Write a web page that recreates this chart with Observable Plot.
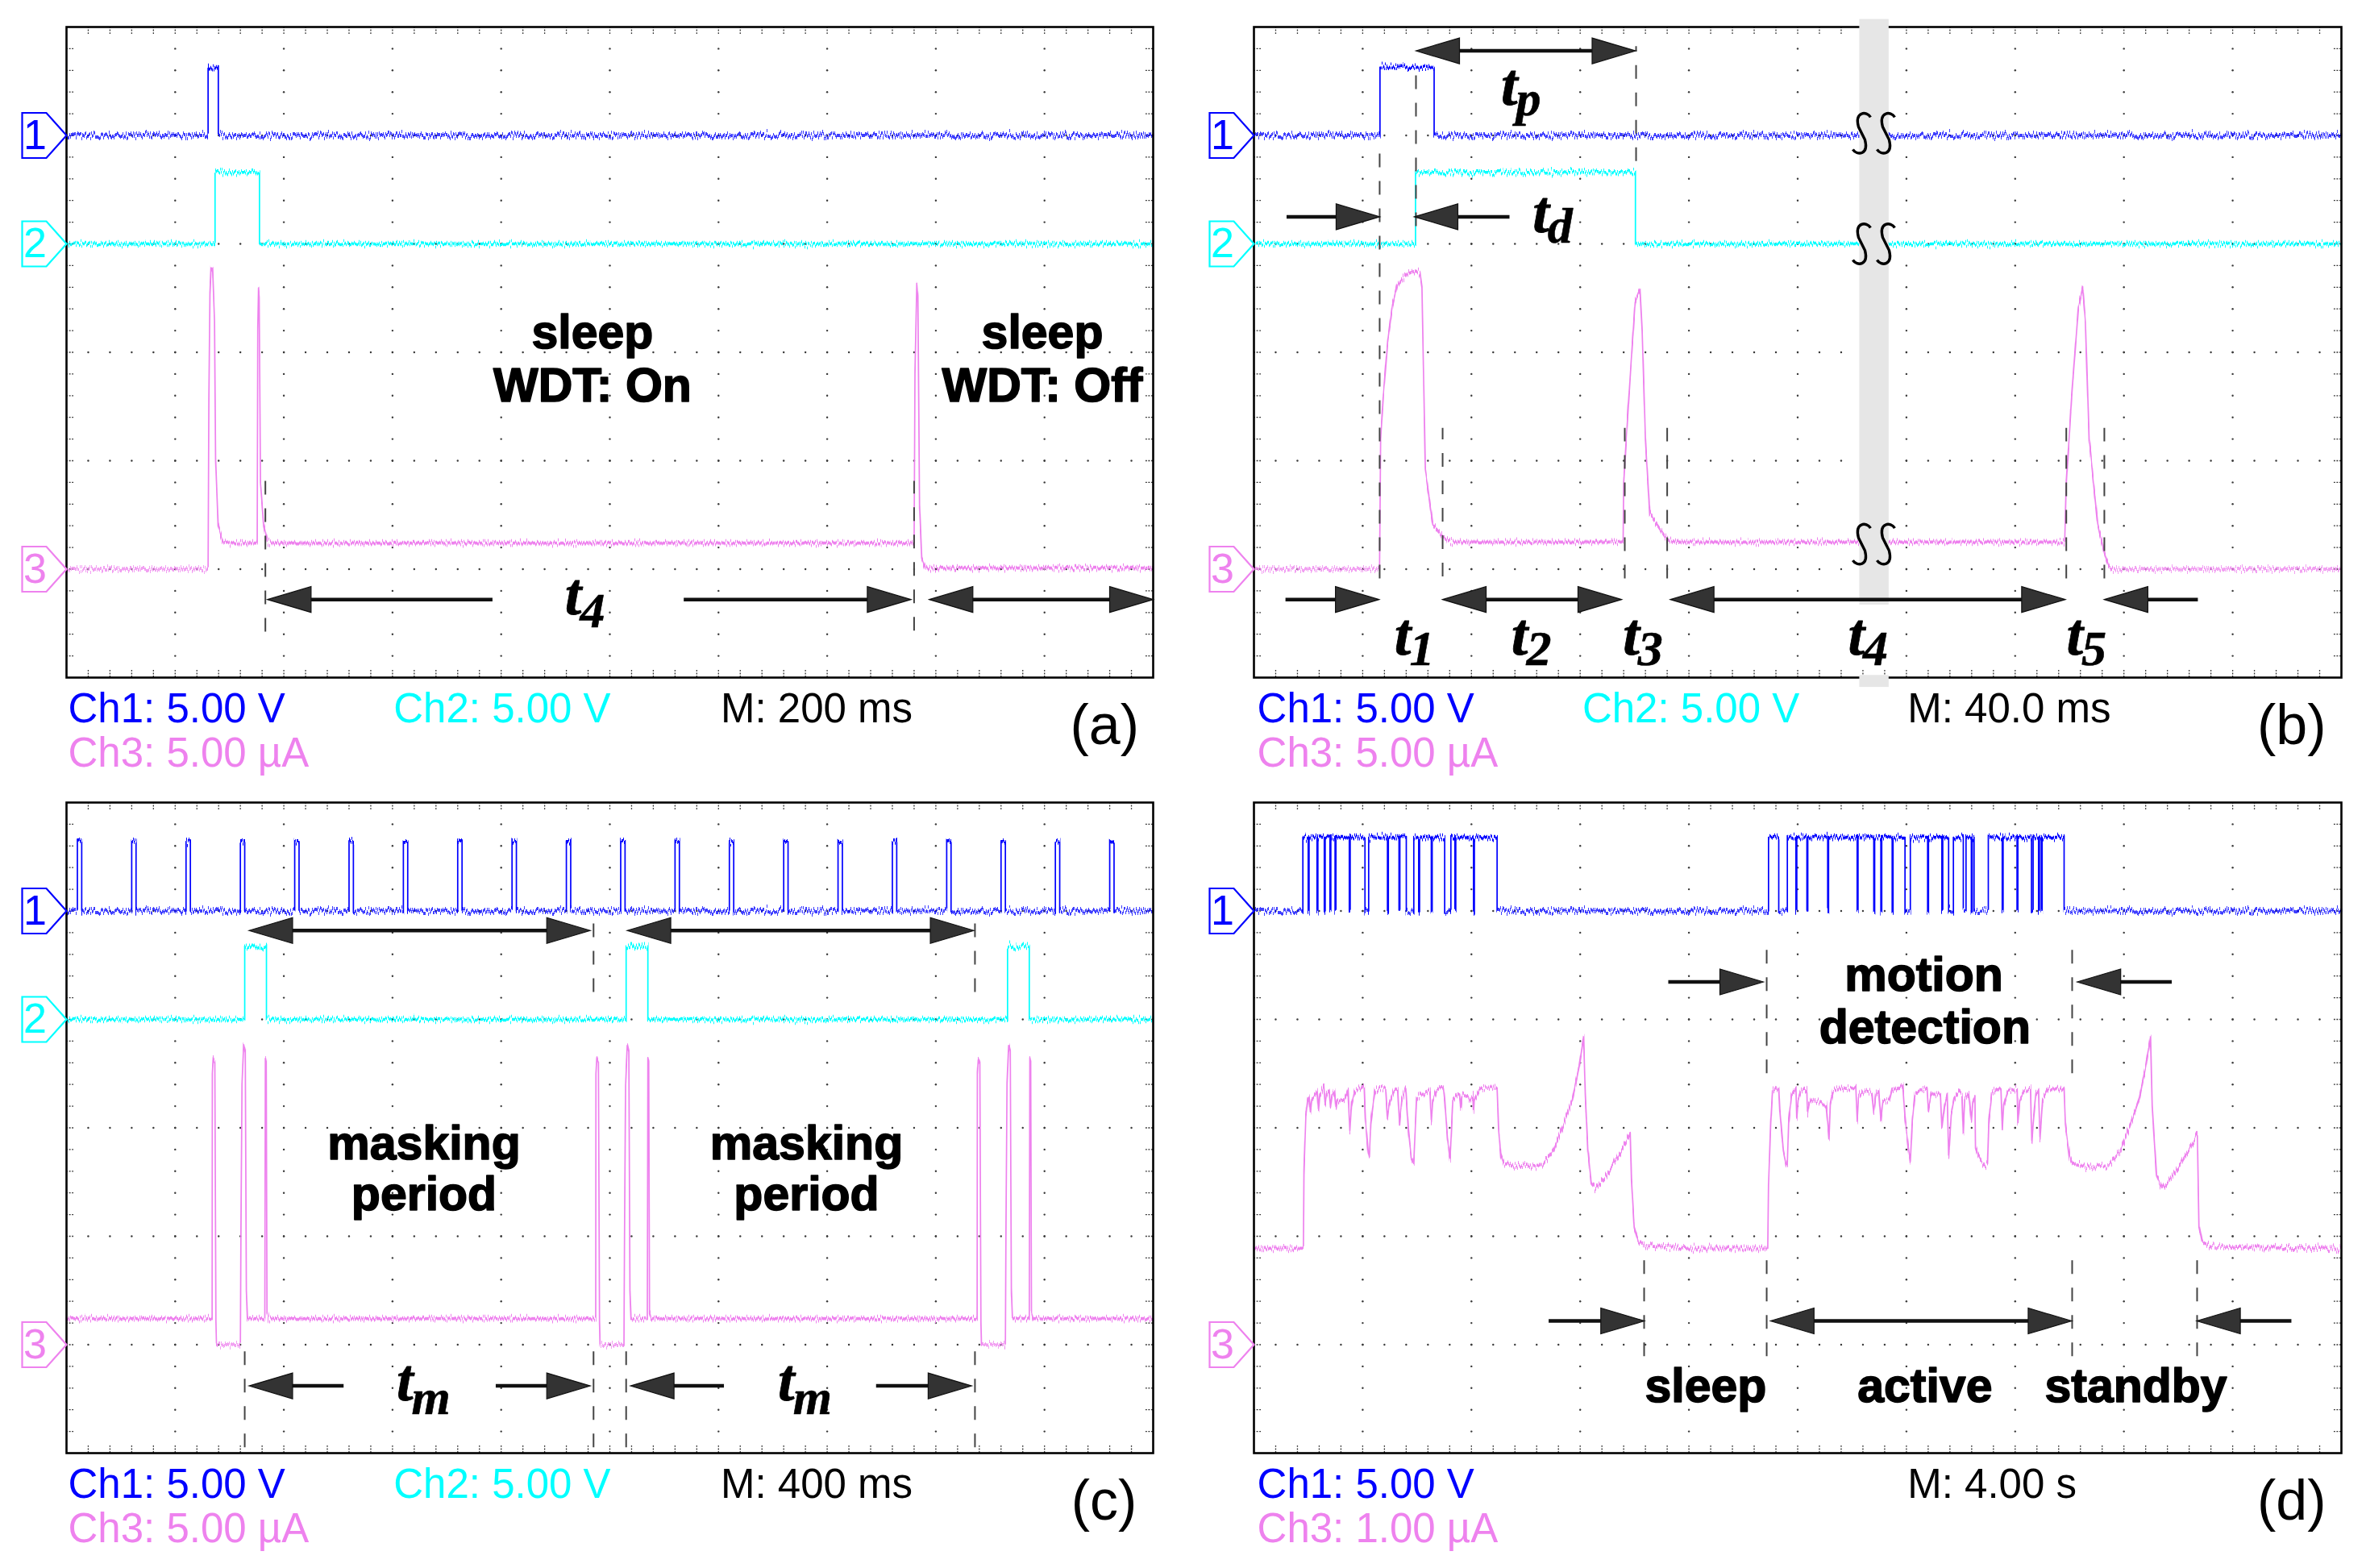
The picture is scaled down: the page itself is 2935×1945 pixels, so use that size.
<!DOCTYPE html>
<html>
<head>
<meta charset="utf-8">
<script src="https://cdn.jsdelivr.net/npm/d3@7"></script>
<script src="https://cdn.jsdelivr.net/npm/@observablehq/plot@0.6"></script>
<style>
html, body { margin: 0; padding: 0; background: #fff; }
#root { position: relative; width: 2935px; height: 1945px; overflow: hidden; background: #fff; }
#root svg { position: absolute; }
</style>
</head>
<body>
<div id="root"></div>
<script>
// ---------- grid (oscilloscope: 10 x 6 divisions, dots every 0.2 div) ----------
const gridX = [1, 2, 3, 4, 5, 6, 7, 8, 9];
const gridY = [1, 2, 3, 4, 5];
const minorStep = 0.2;

// ---------- panel (a) : M 200 ms ----------
const aCh1Pulses = [[1.303, 1.397]];
const aCh1Levels = [5.0, 5.62];
const aCh2Pulses = [[1.367, 1.776]];
const aCh2Levels = [4.0, 4.66];
const aCh3 = [[0,1.0],[1.303,1.0],[1.31,2.53],[1.32,3.55],[1.33,3.78],[1.345,3.76],[1.362,3.3],[1.372,2.0],[1.395,1.41],[1.435,1.26],[1.50,1.24],[1.755,1.24],[1.76,3.2],[1.767,3.58],[1.773,3.5],[1.785,1.8],[1.814,1.41],[1.85,1.25],[1.9,1.24],[7.80,1.24],[7.808,2.8],[7.825,3.63],[7.835,3.5],[7.85,1.6],[7.87,1.1],[7.9,1.01],[10,1.01]];
const aDashes = [[1.83, 0.42, 1.81], [7.80, 0.43, 1.81]];
const aArrows = [[3.92, 1.85, 0.72, false], [5.68, 7.77, 0.72, false], [7.94, 10.0, 0.72, true]];
const aLabels = [["sleep", 4.84, 3.04], ["WDT: On", 4.84, 2.55], ["sleep", 8.98, 3.04], ["WDT: Off", 8.98, 2.55]];
const aTimes = [["4", 4.725, 0.58]];
const aMarkers = [["1", 5.0], ["2", 4.0], ["3", 1.0]];
const aLegend = [["1", "Ch1: 5.00 V", 0.015, 0], ["2", "Ch2: 5.00 V", 3.01, 0], ["M", "M: 200 ms", 6.02, 0], ["3", "Ch3: 5.00 \u00b5A", 0.015, 1]];

// ---------- panel (b) : M 40.0 ms ----------
const bCh1Pulses = [[1.159, 1.657]];
const bCh1Levels = [5.0, 5.63];
const bCh2Pulses = [[1.486, 3.508]];
const bCh2Levels = [4.0, 4.66];
const bCh3 = [[0,1.0],[1.155,1.0],[1.165,2.2],[1.19,2.6],[1.23,3.10],[1.275,3.44],[1.317,3.62],[1.40,3.72],[1.486,3.75],[1.527,3.73],[1.545,3.6],[1.576,1.91],[1.645,1.41],[1.735,1.30],[1.82,1.25],[3.395,1.25],[3.40,1.8],[3.444,2.53],[3.506,3.47],[3.55,3.58],[3.57,3.2],[3.60,2.2],[3.64,1.51],[3.74,1.36],[3.80,1.27],[3.9,1.25],[7.455,1.25],[7.47,1.8],[7.52,2.6],[7.58,3.4],[7.62,3.60],[7.645,3.3],[7.68,2.2],[7.76,1.41],[7.82,1.15],[7.86,1.02],[7.9,1.0],[10,1.0]];
const bDashes = [[1.156, 0.91, 4.86], [1.49, 4.16, 5.59], [3.514, 4.76, 5.82], [1.735, 0.93, 2.30], [3.41, 0.91, 2.30], [3.80, 0.91, 2.30], [7.47, 0.91, 2.30], [7.82, 0.91, 2.30]];
const bArrows = [[1.49, 3.51, 5.78, true], [0.30, 1.156, 4.25, false], [2.35, 1.475, 4.25, false], [0.29, 1.15, 0.72, false], [1.735, 3.38, 0.72, true], [3.83, 7.46, 0.72, true], [8.68, 7.82, 0.72, false]];
const bBand = [[5.57, 5.84, 0.67, 6.07], [5.57, 5.84, -0.09, 0.02]];
const bBreaks = [[5.70, 5.02], [5.70, 4.0], [5.70, 1.23]];
const bTimes = [["p", 2.41, 5.28], ["d", 2.70, 4.11], ["1", 1.43, 0.21], ["2", 2.505, 0.21], ["3", 3.53, 0.21], ["4", 5.60, 0.21], ["5", 7.61, 0.21]];
const bMarkers = [["1", 5.0], ["2", 4.0], ["3", 1.0]];
const bLegend = [["1", "Ch1: 5.00 V", 0.03, 0], ["2", "Ch2: 5.00 V", 3.02, 0], ["M", "M: 40.0 ms", 6.01, 0], ["3", "Ch3: 5.00 \u00b5A", 0.03, 1]];

// ---------- panel (c) : M 400 ms ----------
const cCh1PulseStarts = [0.10, 0.60, 1.10, 1.60, 2.10, 2.60, 3.10, 3.60, 4.10, 4.60, 5.10, 5.60, 6.10, 6.60, 7.10, 7.60, 8.10, 8.60, 9.10, 9.60];
const cCh1PulseWidth = 0.04;
const cCh1Levels = [5.0, 5.64];
const cCh2Pulses = [[1.64, 1.84], [5.15, 5.35], [8.66, 8.86]];
const cCh2Levels = [4.0, 4.67];
const cCh3 = [[0,1.24],[1.34,1.24],[1.342,3.5],[1.35,3.64],[1.365,3.6],[1.375,1.2],[1.38,1.0],[1.60,1.0],[1.605,2.0],[1.615,3.4],[1.63,3.76],[1.645,3.7],[1.655,1.5],[1.665,1.24],[1.825,1.24],[1.83,3.64],[1.838,3.6],[1.845,1.3],[1.86,1.24],
  [4.87,1.24],[4.872,3.5],[4.88,3.64],[4.895,3.6],[4.905,1.2],[4.91,1.0],[5.13,1.0],[5.135,2.0],[5.145,3.4],[5.16,3.76],[5.175,3.7],[5.185,1.5],[5.195,1.24],[5.345,1.24],[5.35,3.64],[5.358,3.6],[5.365,1.3],[5.38,1.24],
  [8.38,1.24],[8.382,3.5],[8.39,3.64],[8.405,3.6],[8.415,1.2],[8.42,1.0],[8.64,1.0],[8.645,2.0],[8.655,3.4],[8.67,3.76],[8.685,3.7],[8.695,1.5],[8.705,1.24],[8.86,1.24],[8.865,3.64],[8.873,3.6],[8.88,1.3],[8.895,1.24],[10,1.24]];
const cDashes = [[1.64, 0.05, 0.94], [4.85, 0.05, 0.94], [5.15, 0.05, 0.94], [8.36, 0.05, 0.94], [4.85, 4.25, 4.91], [8.36, 4.25, 4.91]];
const cArrows = [[1.68, 4.82, 4.82, true], [5.16, 8.35, 4.82, true], [2.55, 1.68, 0.62, false], [3.95, 4.82, 0.62, false], [6.05, 5.19, 0.62, false], [7.45, 8.33, 0.62, false]];
const cLabels = [["masking", 3.29, 2.71], ["period", 3.29, 2.24], ["masking", 6.81, 2.71], ["period", 6.81, 2.24]];
const cTimes = [["m", 3.175, 0.49], ["m", 6.685, 0.49]];
const cMarkers = [["1", 5.0], ["2", 4.0], ["3", 1.0]];
const cLegend = [["1", "Ch1: 5.00 V", 0.015, 0], ["2", "Ch2: 5.00 V", 3.01, 0], ["M", "M: 400 ms", 6.02, 0], ["3", "Ch3: 5.00 \u00b5A", 0.015, 1]];

// ---------- panel (d) : M 4.00 s ----------
const dCh1High = [[0.450,1.021],[1.055,1.401],[1.470,1.754],[1.811,2.236],[4.732,4.826],[4.905,5.987],[6.036,6.388],[6.432,6.523],[6.548,6.622],[6.753,7.150],[7.165,7.450]];
const dCh1Dips = [0.499,0.580,0.647,0.699,0.746,0.877,1.228,1.334,1.515,1.631,1.848,2.019,4.984,5.085,5.276,5.547,5.700,5.765,5.869,6.195,6.326,6.597,6.881,7.017,7.215,7.240];
const dCh1DipWidth = 0.008;
const dCh1Levels = [5.0, 5.68];
const dCh3 = [[0,1.89],[0.455,1.89],[0.46,2.6],[0.477,3.11],[0.494,3.26],[0.506,3.29],[0.519,3.14],[0.531,3.26],[0.568,3.31],[0.581,3.34],[0.593,3.16],[0.605,3.31],[0.642,3.39],[0.655,3.21],[0.667,3.31],[0.692,3.34],[0.704,3.19],[0.717,3.29],[0.741,3.34],[0.754,3.18],[0.766,3.26],[0.828,3.25],[0.853,3.31],[0.865,3.35],[0.882,2.96],[0.897,3.21],[0.927,3.34],[0.976,3.36],[1.013,3.39],[1.025,3.09],[1.050,2.79],[1.062,2.74],[1.075,3.04],[1.112,3.34],[1.149,3.37],[1.211,3.36],[1.228,3.09],[1.243,3.21],[1.285,3.34],[1.322,3.36],[1.339,3.04],[1.359,3.26],[1.396,3.37],[1.421,2.96],[1.446,2.72],[1.470,2.67],[1.495,3.26],[1.532,3.31],[1.569,3.31],[1.619,3.34],[1.631,3.06],[1.643,3.24],[1.680,3.35],[1.742,3.37],[1.754,3.26],[1.779,2.91],[1.804,2.72],[1.829,3.26],[1.866,3.31],[1.890,3.32],[1.903,3.19],[1.915,3.31],[1.964,3.29],[1.989,3.26],[2.014,3.29],[2.019,3.14],[2.026,3.26],[2.076,3.36],[2.137,3.37],[2.236,3.37],[2.25,3.0],[2.27,2.75],[2.298,2.67],[2.40,2.65],[2.55,2.65],[2.656,2.66],[2.755,2.79],[2.854,3.06],[2.928,3.26],[2.990,3.56],[3.032,3.84],[3.047,3.3],[3.07,2.8],[3.101,2.49],[3.138,2.44],[3.225,2.54],[3.348,2.74],[3.423,2.87],[3.460,2.95],[3.472,2.5],[3.497,2.07],[3.534,1.95],[3.595,1.91],[4.0,1.89],[4.725,1.89],
  [4.732,2.47],[4.752,3.04],[4.769,3.34],[4.806,3.37],[4.826,3.36],[4.836,3.16],[4.868,2.79],[4.893,2.67],[4.905,2.65],[4.917,3.04],[4.942,3.29],[4.967,3.34],[4.984,3.36],[4.991,3.09],[5.004,3.26],[5.028,3.34],[5.066,3.36],[5.085,3.34],[5.090,3.13],[5.103,3.22],[5.127,3.26],[5.202,3.24],[5.263,3.21],[5.276,3.04],[5.288,2.89],[5.300,3.21],[5.325,3.34],[5.374,3.36],[5.535,3.37],[5.547,3.06],[5.560,3.29],[5.597,3.34],[5.683,3.32],[5.700,3.14],[5.720,3.31],[5.745,3.34],[5.765,3.06],[5.782,3.24],[5.844,3.26],[5.869,3.36],[5.906,3.35],[5.967,3.39],[5.987,3.09],[6.017,2.82],[6.036,2.69],[6.054,3.06],[6.079,3.31],[6.116,3.34],[6.190,3.36],[6.202,3.16],[6.227,3.31],[6.313,3.31],[6.326,3.01],[6.350,3.21],[6.375,3.31],[6.388,2.74],[6.412,3.13],[6.437,3.26],[6.486,3.34],[6.511,3.31],[6.523,2.96],[6.536,3.26],[6.573,3.32],[6.597,3.06],[6.610,3.24],[6.630,3.29],[6.635,2.82],[6.659,2.74],[6.684,2.69],[6.721,2.65],[6.746,2.67],[6.758,3.06],[6.783,3.31],[6.832,3.36],[6.869,3.36],[6.882,2.99],[6.894,3.21],[6.931,3.34],[6.968,3.34],[7.018,3.36],[7.025,3.04],[7.042,3.26],[7.079,3.34],[7.141,3.36],[7.153,2.86],[7.166,3.04],[7.190,3.31],[7.215,3.34],[7.228,2.91],[7.252,3.26],[7.302,3.36],[7.450,3.36],[7.462,3.04],[7.500,2.74],[7.524,2.67],[7.598,2.65],[7.672,2.64],[7.87,2.66],[7.97,2.79],[8.07,3.06],[8.14,3.26],[8.20,3.56],[8.245,3.84],[8.26,3.2],[8.30,2.55],[8.35,2.44],[8.44,2.54],[8.56,2.74],[8.64,2.87],[8.675,2.95],[8.69,2.1],[8.72,1.95],[8.80,1.90],[10,1.89]];
const dDashes = [[4.715, 3.50, 4.67], [7.524, 3.50, 4.67], [4.715, 0.89, 1.80], [7.524, 0.89, 1.80], [3.588, 0.89, 1.80], [8.673, 0.89, 1.80]];
const dArrows = [[3.81, 4.685, 4.346, false], [8.44, 7.57, 4.346, false], [2.71, 3.59, 1.219, false], [4.75, 7.52, 1.219, true], [9.54, 8.67, 1.219, false]];
const dLabels = [["motion", 6.16, 4.265], ["detection", 6.17, 3.78], ["sleep", 4.154, 0.469], ["active", 6.17, 0.469], ["standby", 8.11, 0.469]];
const dTimes = [];
const dMarkers = [["1", 5.0], ["3", 1.0]];
const dLegend = [["1", "Ch1: 5.00 V", 0.03, 0], ["M", "M: 4.00 s", 6.01, 0], ["3", "Ch3: 1.00 \u00b5A", 0.03, 1]];

// ---------- styling ----------
const SANS = "'Liberation Sans', Arial, Helvetica, sans-serif";
const SERIF = "'Liberation Serif', 'Times New Roman', serif";
const COLORS = {"1": "#0000ff", "2": "#00ffff", "3": "#ee82ee", "M": "#000000"};
const legendRows = [-0.41, -0.82];

// ---------- helpers that turn the arrays into plottable tables ----------
function stepTrace(intervals, [lo, hi]) {
  const pts = [[0, lo]];
  for (const [a, b] of intervals) pts.push([a, lo], [a, hi], [b, hi], [b, lo]);
  pts.push([10, lo]);
  return pts;
}
function splitByDips(intervals, dips, w) {
  const out = [];
  for (const [a, b] of intervals) {
    let s = a;
    for (const d of dips.filter(d => d > a && d < b).sort((p, q) => p - q)) { out.push([s, d]); s = d + w; }
    out.push([s, b]);
  }
  return out;
}
const minorX = d3.range(1, 50).map(k => +(k * minorStep).toFixed(3));
const minorY = d3.range(1, 30).map(k => +(k * minorStep).toFixed(3));
const gridDots = [
  ...gridX.flatMap(x => minorY.map(y => [x, y])),
  ...gridY.flatMap(y => minorX.map(x => [x, y]))
];

// custom symbols (pixel shapes anchored on a data point)
const triRight = {draw(c) { c.moveTo(0, 0); c.lineTo(-54, -16); c.lineTo(-54, 16); c.closePath(); }};
const triLeft = {draw(c) { c.moveTo(0, 0); c.lineTo(54, -16); c.lineTo(54, 16); c.closePath(); }};
const pentagon = {draw(c) { c.moveTo(0, 0); c.lineTo(-25, -28); c.lineTo(-55, -28); c.lineTo(-55, 28); c.lineTo(-25, 28); c.closePath(); }};
const breakMark = {draw(c) {
  for (const dx of [-15, 15]) {
    c.moveTo(dx + 11, -20);
    c.bezierCurveTo(dx + 6, -28, dx - 9, -27, dx - 4, -8);
    c.lineTo(dx + 4, 8);
    c.bezierCurveTo(dx + 9, 27, dx - 6, 28, dx - 11, 20);
  }
}};

function buildPanel(cfg) {
  const {left, top, width, height, mL, mR, mT, mB} = cfg.box;
  const tickLen = 0.067;
  const headLen = 0.37;
  const tickStyle = {stroke: "#333", strokeWidth: 1.3, strokeDasharray: "2,1.6"};
  const marks = [
    Plot.dot(gridDots, {x: d => d[0], y: d => d[1], r: 1.2, fill: "#3a3a3a", stroke: "none"}),
    Plot.ruleX(minorX, {x: d => d, y1: 6, y2: 6 - tickLen, ...tickStyle}),
    Plot.ruleX(minorX, {x: d => d, y1: 0, y2: tickLen, ...tickStyle}),
    Plot.ruleY(minorY, {y: d => d, x1: 0, x2: tickLen, ...tickStyle}),
    Plot.ruleY(minorY, {y: d => d, x1: 10, x2: 10 - tickLen, ...tickStyle})
  ];
  for (const [ch, pts] of cfg.traces) {
    marks.push(Plot.line(pts, {x: d => d[0], y: d => d[1], stroke: COLORS[ch], strokeWidth: 1.7, strokeLinejoin: "round"}));
  }
  marks.push(Plot.frame({stroke: "#000", strokeWidth: 2.6}));
  if (cfg.band) marks.push(Plot.rect(cfg.band, {x1: d => d[0], x2: d => d[1], y1: d => d[2], y2: d => d[3], fill: "#e6e6e6"}));
  if (cfg.breaks) marks.push(Plot.dot(cfg.breaks, {x: d => d[0], y: d => d[1], symbol: breakMark, fill: "none", stroke: "#000", strokeWidth: 3.4}));
  marks.push(Plot.ruleX(cfg.dashes, {x: d => d[0], y1: d => d[1], y2: d => d[2], stroke: "#444", strokeWidth: 2, strokeDasharray: "17,17"}));
  // arrows: shaft + filled triangular heads
  const shafts = cfg.arrows.map(([x1, x2, y, both]) => {
    const dir = Math.sign(x2 - x1);
    return {x1: both ? x1 + dir * headLen : x1, x2: x2 - dir * headLen, y};
  });
  marks.push(Plot.link(shafts, {x1: "x1", x2: "x2", y1: "y", y2: "y", stroke: "#111", strokeWidth: 4.5, strokeLinecap: "butt"}));
  const heads = [];
  for (const [x1, x2, y, both] of cfg.arrows) {
    const dir = Math.sign(x2 - x1);
    heads.push({x: x2, y, dir});
    if (both) heads.push({x: x1, y, dir: -dir});
  }
  const headStyle = {fill: "#333", stroke: "#111", strokeWidth: 1.2};
  marks.push(Plot.dot(heads.filter(h => h.dir > 0), {x: "x", y: "y", symbol: triRight, ...headStyle}));
  marks.push(Plot.dot(heads.filter(h => h.dir < 0), {x: "x", y: "y", symbol: triLeft, ...headStyle}));
  // bold annotations (slightly heavier than plain bold)
  marks.push(Plot.text(cfg.labels, {x: d => d[1], y: d => d[2], text: d => d[0], fontFamily: SANS, fontWeight: "bold", fontSize: 59, fill: "#000", stroke: "#000", strokeWidth: 1.6, textAnchor: "middle", lineAnchor: "bottom"}));
  // italic time labels t_x
  marks.push(Plot.text(cfg.times, {x: d => d[1], y: d => d[2], text: () => "t", fontFamily: SERIF, fontWeight: "bold", fontStyle: "italic", fontSize: 74, fill: "#000", stroke: "#000", strokeWidth: 0.8, textAnchor: "end", lineAnchor: "bottom", dx: 2}));
  marks.push(Plot.text(cfg.times, {x: d => d[1], y: d => d[2], text: d => d[0], fontFamily: SERIF, fontWeight: "bold", fontStyle: "italic", fontSize: 62, fill: "#000", stroke: "#000", strokeWidth: 0.6, textAnchor: "start", lineAnchor: "bottom", dy: cfg.subDy}));
  // channel markers
  for (const [ch, y] of cfg.markers) {
    marks.push(Plot.dot([[0, y]], {x: d => d[0], y: d => d[1], symbol: pentagon, fill: "#fff", stroke: COLORS[ch], strokeWidth: 2.2}));
    marks.push(Plot.text([[0, y]], {x: d => d[0], y: d => d[1], text: () => ch, dx: -39, fill: COLORS[ch], fontFamily: SANS, fontSize: 52, textAnchor: "middle", lineAnchor: "middle"}));
  }
  // legend lines below the screen
  for (const [ch, txt, x, row] of cfg.legend) {
    marks.push(Plot.text([[x, legendRows[row]]], {x: d => d[0], y: d => d[1], text: () => txt, fill: COLORS[ch], fontFamily: SANS, fontSize: 51, textAnchor: "start", lineAnchor: "bottom"}));
  }
  marks.push(Plot.text([[cfg.tagX, -0.61]], {x: d => d[0], y: d => d[1], text: () => cfg.tag, fill: "#000", fontFamily: SANS, fontSize: 70, textAnchor: "end", lineAnchor: "bottom"}));

  const svg = Plot.plot({
    width, height,
    marginLeft: mL, marginRight: mR, marginTop: mT, marginBottom: mB,
    x: {domain: [0, 10], axis: null},
    y: {domain: [0, 6], axis: null},
    style: {background: "transparent", fontFamily: SANS, overflow: "visible"},
    marks
  });
  svg.style.left = left + "px";
  svg.style.top = top + "px";

  // trace noise texture (rendering style only)
  const ns = "http://www.w3.org/2000/svg";
  const defs = document.createElementNS(ns, "defs");
  const fid = "jit" + cfg.tag.replace(/\W/g, "");
  defs.innerHTML = `<filter id="${fid}" filterUnits="userSpaceOnUse" x="-50" y="-50" width="${width + 100}" height="${height + 100}" color-interpolation-filters="sRGB">
    <feTurbulence type="fractalNoise" baseFrequency="0.85 0.003" numOctaves="2" seed="5" result="n"/>
    <feComponentTransfer in="n" result="n2"><feFuncR type="linear" slope="0" intercept="0.5"/></feComponentTransfer>
    <feDisplacementMap in="SourceGraphic" in2="n2" scale="16" xChannelSelector="R" yChannelSelector="G" result="d"/>
    <feMorphology in="d" operator="dilate" radius="0 1"/>
  </filter>`;
  svg.insertBefore(defs, svg.firstChild);
  svg.querySelectorAll('g[aria-label="line"]').forEach(g => g.setAttribute("filter", `url(#${fid})`));
  return svg;
}

const root = document.getElementById("root");
const panels = [
  {tag: "(a)", tagX: 9.87, subDy: 16, box: {left: 0, top: 0, width: 1467, height: 972, mL: 82, mR: 37, mT: 33, mB: 132},
   traces: [["1", stepTrace(aCh1Pulses, aCh1Levels)], ["2", stepTrace(aCh2Pulses, aCh2Levels)], ["3", aCh3]],
   dashes: aDashes, arrows: aArrows, labels: aLabels, times: aTimes, markers: aMarkers, legend: aLegend},
  {tag: "(b)", tagX: 9.86, subDy: 13, box: {left: 1467, top: 0, width: 1468, height: 972, mL: 88, mR: 31, mT: 33, mB: 132},
   traces: [["1", stepTrace(bCh1Pulses, bCh1Levels)], ["2", stepTrace(bCh2Pulses, bCh2Levels)], ["3", bCh3]],
   band: bBand, breaks: bBreaks,
   dashes: bDashes, arrows: bArrows, labels: [], times: bTimes, markers: bMarkers, legend: bLegend},
  {tag: "(c)", tagX: 9.85, subDy: 17, box: {left: 0, top: 972, width: 1467, height: 973, mL: 82, mR: 37, mT: 23, mB: 143},
   traces: [["1", stepTrace(cCh1PulseStarts.map(s => [s, s + cCh1PulseWidth]), cCh1Levels)], ["2", stepTrace(cCh2Pulses, cCh2Levels)], ["3", cCh3]],
   dashes: cDashes, arrows: cArrows, labels: cLabels, times: cTimes, markers: cMarkers, legend: cLegend},
  {tag: "(d)", tagX: 9.86, subDy: 13, box: {left: 1467, top: 972, width: 1468, height: 973, mL: 88, mR: 31, mT: 23, mB: 143},
   traces: [["1", stepTrace(splitByDips(dCh1High, dCh1Dips, dCh1DipWidth), dCh1Levels)], ["3", dCh3]],
   dashes: dDashes, arrows: dArrows, labels: dLabels, times: dTimes, markers: dMarkers, legend: dLegend}
];
for (const p of panels) root.appendChild(buildPanel(p));
</script>
</body>
</html>
